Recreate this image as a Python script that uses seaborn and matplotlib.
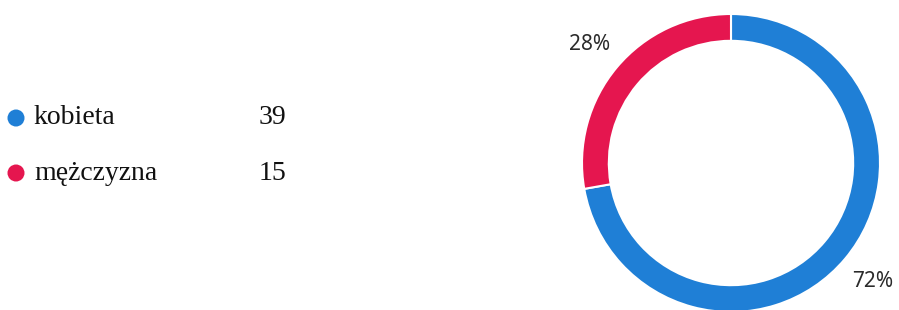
import numpy as np
import seaborn as sns
import matplotlib.pyplot as plt
import pandas as pd

# ---------------------------------------------------------------
# DATA
# ---------------------------------------------------------------
categories = ["kobieta", "mężczyzna"]
counts = [39, 15]
colors = ["#1f7fd6", "#e5164f"]

sns.set_theme(style="white")
plt.rcParams['font.family'] = ['Liberation Serif', 'DejaVu Serif']

fig = plt.figure(figsize=(8.99, 3.10), dpi=100)

# ---------------------------------------------------------------
# LEGEND (left side)
# ---------------------------------------------------------------
ax_leg = fig.add_axes([0, 0, 1, 1])
ax_leg.set_xlim(0, 899)
ax_leg.set_ylim(310, 0)
ax_leg.axis("off")

row_y0, row_gap = 118, 55
leg_df = pd.DataFrame({
    "cat": categories,
    "count": counts,
    "x": [16] * len(categories),
    "y": [row_y0 + i * row_gap for i in range(len(categories))],
})
sns.scatterplot(data=leg_df, x="x", y="y", hue="cat", palette=colors,
                s=150, linewidth=0, legend=False, ax=ax_leg)
for _, r in leg_df.iterrows():
    ax_leg.text(r["x"] + 18, r["y"], r["cat"], fontsize=20, color="#111111",
                va="center", ha="left")
    ax_leg.text(286, r["y"], str(r["count"]), fontsize=20, color="#111111",
                va="center", ha="right")

# ---------------------------------------------------------------
# DONUT
# ---------------------------------------------------------------
cx, cy, rad = 731, 163, 149
ax = fig.add_axes([(cx - rad) / 899, (310 - cy - rad) / 310, 2 * rad / 899, 2 * rad / 310])
wedges, texts, autotexts = ax.pie(
    counts, colors=colors, startangle=90, counterclock=False,
    autopct=lambda p: f"{p:.0f}%", pctdistance=1.24,
    wedgeprops=dict(width=0.18, edgecolor="white", linewidth=1.5),
    textprops=dict(fontsize=15, color="#2b2b2b", family=["Noto Sans", "DejaVu Sans"]),
)
ax.set_xlim(-1, 1)
ax.set_ylim(-1, 1)
ax.set_aspect("equal")
ax.axis("off")

fig.savefig("out.png", dpi=100, facecolor="white")
